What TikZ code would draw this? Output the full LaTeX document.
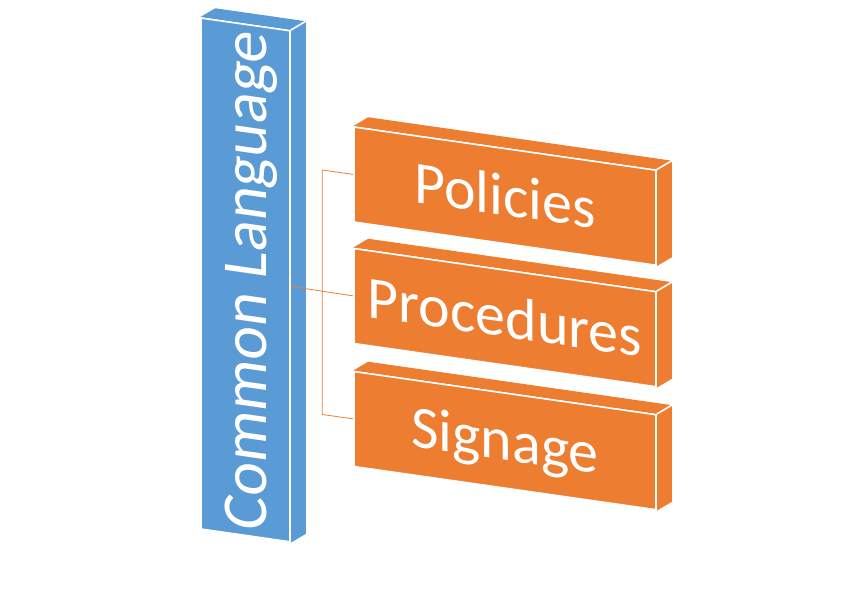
\documentclass[tikz,border=0pt]{standalone}
\usepackage{fontspec}
\setmainfont{Carlito}
\usetikzlibrary{backgrounds}
\definecolor{barblue}{HTML}{5B9BD5}
\definecolor{slaborange}{HTML}{ED7D31}
\tikzset{
  face/.style={draw=white, line width=1.6bp, text=white, inner sep=0pt},
  bar/.style={face, fill=barblue, minimum width=89bp, minimum height=511bp,
    font=\fontsize{64bp}{70bp}\selectfont},
  slab/.style={face, fill=slaborange, minimum width=302bp, minimum height=95bp,
    text height=39bp, text depth=0pt, font=\fontsize{60bp}{70bp}\selectfont},
  link/.style={draw=slaborange, line width=0.8bp},
}
\begin{document}
\begin{tikzpicture}[x=1bp, y=1bp]
  \useasboundingbox (0,0) rectangle (854,-592);
  \begin{scope}[yslant=-0.143, transform shape]
    \node[bar] (lang) at (245.5,-244.8)
      {\rotatebox{90}{\raisebox{0pt}[42bp][0pt]{Common Language}}};
    \node[slab] (pol) at (505,-123.9) {Policies};
    \node[slab] (proc) at (505,-245.4) {Procedures};
    \node[slab] (sig) at (505,-368.4) {Signage};

    % top and side faces behind each block
    \begin{scope}[on background layer]
      \foreach \n/\c in {lang/barblue, pol/slaborange, proc/slaborange, sig/slaborange} {
        \path (\n.north west) ++(15,11) coordinate (bnw)
              (\n.north east) ++(15,11) coordinate (bne)
              (\n.south east) ++(15,11) coordinate (bse);
        \fill[\c] (\n.north west) -- (bnw) -- (bne) -- (bse)
          -- (\n.south east) -- (\n.north east) -- cycle;
      }
    \end{scope}
    \foreach \n in {lang, pol, proc, sig} {
      \path (\n.north east) ++(15,11) coordinate (bne);
      \draw[white, line width=1.6bp] (\n.north east) -- (bne);
    }

    \path (sig.west) ++(-31,0) coordinate (fork);
    \draw[link] (lang.east) -- (proc.west);
    \draw[link] (pol.west) -- ++(-31,0) -- (fork) -- (sig.west);
  \end{scope}
\end{tikzpicture}
\end{document}
